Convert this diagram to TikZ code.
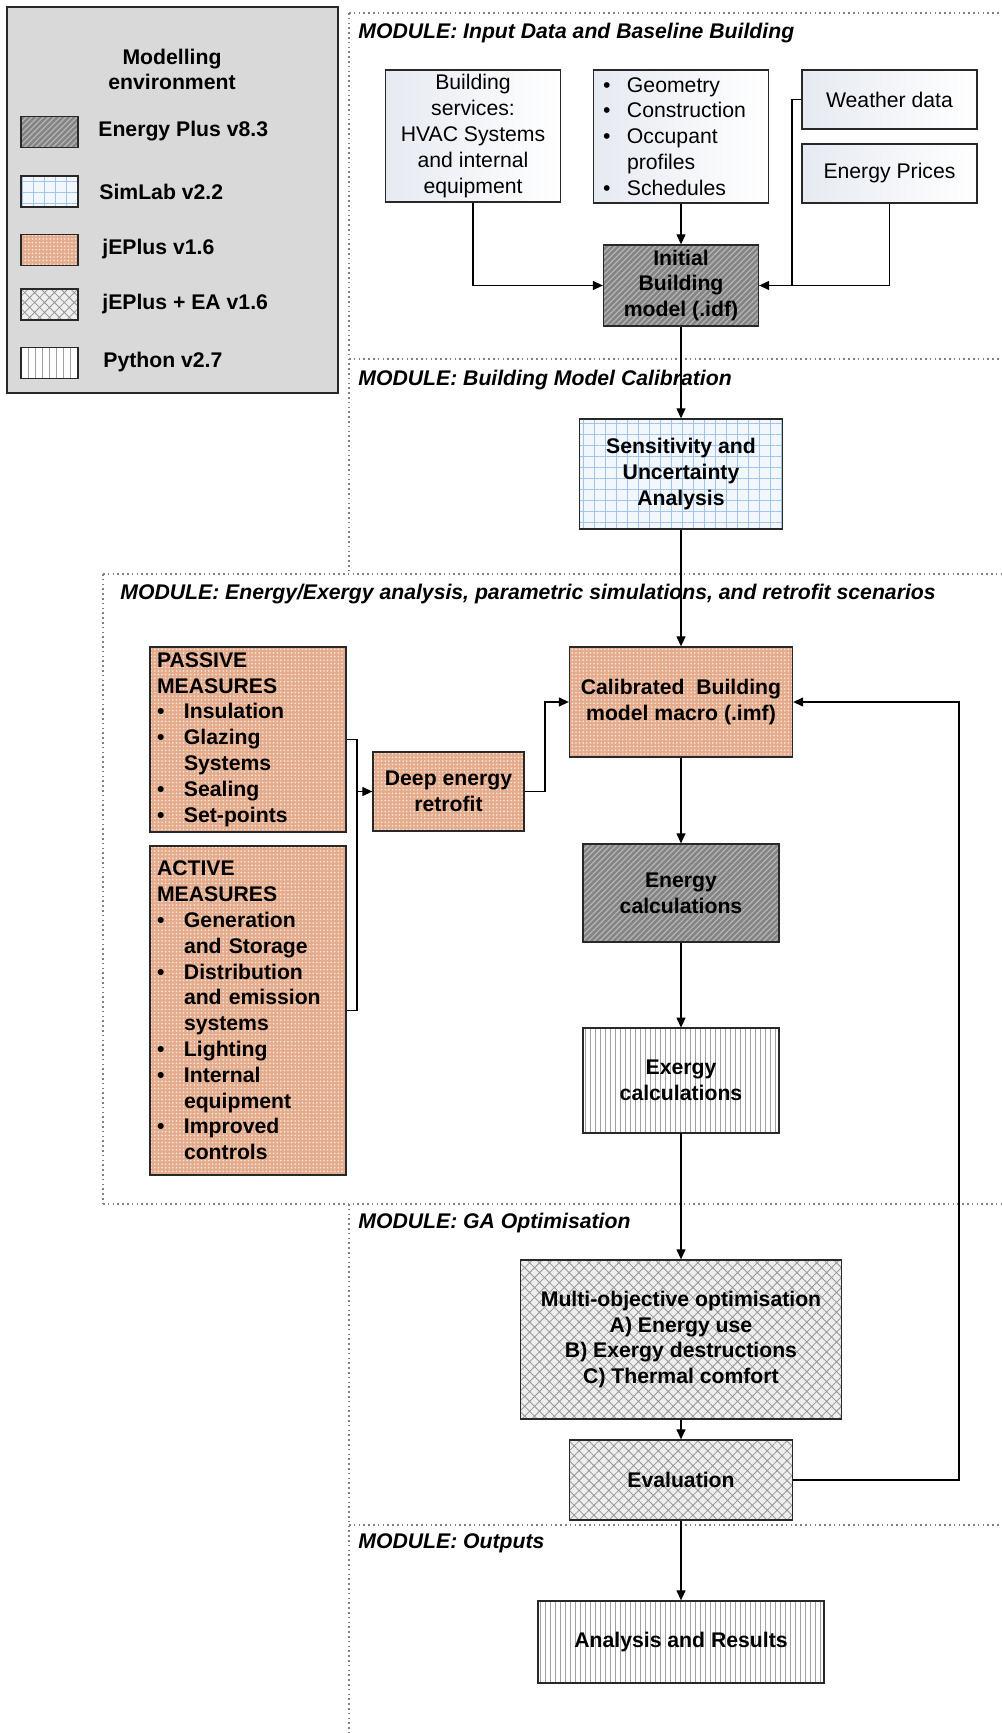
\documentclass[tikz,border=0pt]{standalone}
\usepackage{fontspec}
\setmainfont{Liberation Sans}
\usetikzlibrary{arrows.meta,patterns,patterns.meta}
\definecolor{epfill}{RGB}{132,132,132}
\definecolor{eplines}{RGB}{182,182,182}
\definecolor{slfill}{RGB}{242,247,253}
\definecolor{slgrid}{RGB}{160,196,234}
\definecolor{jefill}{RGB}{228,172,140}
\definecolor{jedots}{RGB}{248,232,222}
\definecolor{eafill}{RGB}{238,238,238}
\definecolor{ealines}{RGB}{150,150,150}
\definecolor{pylines}{RGB}{160,160,160}
\definecolor{legfill}{RGB}{217,217,217}
\definecolor{boxline}{RGB}{40,40,40}
\definecolor{dotline}{RGB}{130,130,130}
\definecolor{topshade}{RGB}{230,234,241}
\newcommand{\dgfont}{\fontsize{10.6pt}{12.9pt}\selectfont}
\newcommand{\ab}{\makebox[13.5pt][l]{\textbullet}}
\newcommand{\ai}{\hspace*{13.5pt}}
\newcommand{\gb}{\makebox[12pt][l]{\textbullet}}
\begin{document}
\begin{tikzpicture}[x=0.5pt,y=-0.5pt,
  box/.style={draw=boxline, line width=0.65pt, inner sep=0pt, align=center, font=\dgfont},
  inbox/.style={box, left color=topshade, right color=white},
  epbox/.style={box, preaction={fill=epfill}, pattern={Lines[angle=45,distance=2pt,line width=0.6pt]}, pattern color=eplines},
  slbox/.style={box, preaction={fill=slfill}, pattern={Hatch[angle=0,distance=5.5pt,line width=0.5pt]}, pattern color=slgrid},
  jebox/.style={box, preaction={fill=jefill}, pattern={Dots[radius=0.45pt,distance=1.8pt]}, pattern color=jedots},
  eabox/.style={box, preaction={fill=eafill}, pattern={Hatch[angle=45,distance=3.5pt,line width=0.4pt]}, pattern color=ealines},
  pybox/.style={box, preaction={fill=white}, pattern={Lines[angle=90,distance=2.5pt,line width=0.4pt]}, pattern color=pylines},
  bold/.style={font=\dgfont\bfseries},
  arr/.style={line width=0.6pt, -{Triangle[length=5pt,width=4.5pt]}},
  plainline/.style={line width=0.6pt},
  modline/.style={draw=dotline, line width=0.6pt, dash pattern=on 0.8pt off 1.6pt},
  modlabel/.style={font=\dgfont\bfseries\itshape, anchor=west, inner sep=0pt},
  leglabel/.style={font=\dgfont\bfseries, anchor=west, inner sep=0pt},
  swatch/.style={minimum width=28.5pt, minimum height=15.5pt, line width=0.75pt}
]
\useasboundingbox (0,0) rectangle (1001,1733);

% module frames
\draw[modline] (349,13) -- (1001,13);
\draw[modline] (349,13) -- (349,574);
\draw[modline] (349,359) -- (1001,359);
\draw[modline] (103,574) -- (1001,574);
\draw[modline] (103,574) -- (103,1204);
\draw[modline] (103,1204) -- (1001,1204);
\draw[modline] (349,1204) -- (349,1733);
\draw[modline] (349,1525) -- (1001,1525);

\node[modlabel] (m1) at (358,33) {MODULE: Input Data and Baseline Building};
\node[modlabel] (m2) at (358,380) {MODULE: Building Model Calibration};
\node[modlabel] (m3) at (120,594) {MODULE: Energy/Exergy analysis, parametric simulations, and retrofit scenarios};
\node[modlabel] (m4) at (358,1223) {MODULE: GA Optimisation};
\node[modlabel] (m5) at (358,1543) {MODULE: Outputs};

% legend
\node[draw=boxline, line width=0.75pt, fill=legfill, minimum width=165.5pt, minimum height=193pt, inner sep=0pt] (legend) at (172.5,200) {};
\node[bold, align=center, inner sep=0pt] (legtitle) at (172,69.5) {Modelling\\environment};
\node[epbox, swatch] (lg1) at (49.5,132) {};
\node[slbox, swatch] (lg2) at (49.5,191.5) {};
\node[jebox, swatch] (lg3) at (49.5,250) {};
\node[eabox, swatch] (lg4) at (49.5,304.5) {};
\node[box, swatch, preaction={fill=white}, pattern={Lines[angle=90,distance=3.5pt,line width=0.4pt]}, pattern color=pylines] (lg5) at (49.5,363) {};
\node[leglabel] (lt1) at (98,131) {Energy Plus v8.3};
\node[leglabel] (lt2) at (99,192) {SimLab v2.2};
\node[leglabel] (lt3) at (102,249) {jEPlus v1.6};
\node[leglabel] (lt4) at (102,304) {jEPlus + EA v1.6};
\node[leglabel] (lt5) at (103,362) {Python v2.7};

% input module
\node[inbox, minimum width=87.5pt, minimum height=66pt] (bs) at (473,136)
  {Building\\services:\\HVAC Systems\\and internal\\equipment};
\node[inbox, minimum width=87.5pt, minimum height=66.5pt, align=left, text width=78pt, inner xsep=4.75pt] (geo) at (681,136.5)
  {\gb Geometry\\\gb Construction\\\gb Occupant\\\hspace*{12pt}profiles\\\gb Schedules};
\node[inbox, minimum width=87.5pt, minimum height=29.5pt] (weather) at (889.5,99.5) {Weather data};
\node[inbox, minimum width=87.5pt, minimum height=29.5pt] (prices) at (889.5,173.5) {Energy Prices};
\node[epbox, bold, minimum width=77.5pt, minimum height=40.5pt] (init) at (681,285.5)
  {Initial\\Building\\model (.idf)};

% calibration
\node[slbox, bold, minimum width=101.5pt, minimum height=55pt] (sens) at (681,474)
  {Sensitivity and\\Uncertainty\\Analysis};

% energy / exergy module
\node[jebox, bold, minimum width=111.5pt, minimum height=55pt] (calib) at (681,702)
  {Calibrated\ \ Building\\model macro (.imf)};
\node[jebox, bold, minimum width=98pt, minimum height=92.5pt, align=left, text width=91pt, inner xsep=3.5pt] (passive) at (248,739.5)
  {PASSIVE\\MEASURES\\\ab Insulation\\\ab Glazing\\\ai Systems\\\ab Sealing\\\ab Set-points};
\node[jebox, bold, minimum width=98pt, minimum height=164.5pt, align=left, text width=91pt, inner xsep=3.5pt] (active) at (248,1010.5)
  {ACTIVE\\MEASURES\\\ab Generation\\\ai and Storage\\\ab Distribution\\\ai and emission\\\ai systems\\\ab Lighting\\\ab Internal\\\ai equipment\\\ab Improved\\\ai controls};
\node[jebox, bold, minimum width=75.5pt, minimum height=39.5pt] (deep) at (448.5,791.5)
  {Deep energy\\retrofit};
\node[epbox, bold, minimum width=98pt, minimum height=49pt] (energy) at (681,893)
  {Energy\\calculations};
\node[pybox, bold, minimum width=98pt, minimum height=52.5pt] (exergy) at (681,1080.5)
  {Exergy\\calculations};

% GA module
\node[eabox, bold, minimum width=160.5pt, minimum height=79.5pt] (multi) at (681,1339.5)
  {Multi-objective optimisation\\A) Energy use\\B) Exergy destructions\\C) Thermal comfort};
\node[eabox, bold, minimum width=111.5pt, minimum height=40pt] (eval) at (681,1480) {Evaluation};

% outputs
\node[pybox, bold, minimum width=143pt, minimum height=41pt] (results) at (681,1642) {Analysis and Results};

% connectors
\coordinate (wj) at (792,285.5);
\coordinate (bx) at (357,791.5);
\coordinate (dj) at (545,702);
\coordinate (fb) at (959,1480);
\draw[arr] (bs.south) |- (init.west);
\draw[arr] (geo.south) -- (init.north);
\draw[plainline] (weather.west) -| (wj);
\draw[arr] (prices.south) |- (init.east);
\draw[arr] (init.south) -- (sens.north);
\draw[arr] (sens.south) -- (calib.north);
\draw[plainline] (passive.east) -- (passive.east -| bx) -- (active.east -| bx) -- (active.east);
\draw[arr] (bx) -- (deep.west);
\draw[arr] (deep.east) -| (dj) -- (calib.west);
\draw[arr] (calib.south) -- (energy.north);
\draw[arr] (energy.south) -- (exergy.north);
\draw[arr] (exergy.south) -- (multi.north);
\draw[arr] (multi.south) -- (eval.north);
\draw[arr] (eval.south) -- (results.north);
\draw[arr] (eval.east) -- (fb) |- (calib.east);
\end{tikzpicture}
\end{document}
